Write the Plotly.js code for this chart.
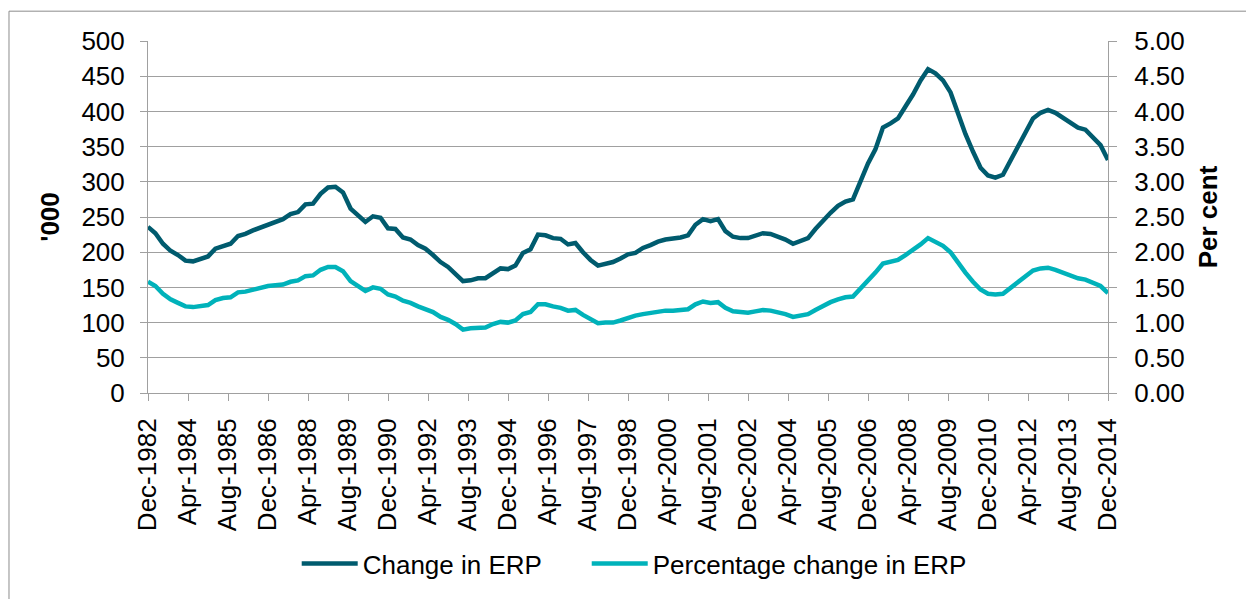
<!DOCTYPE html>
<html>
<head>
<meta charset="utf-8">
<script src="https://cdn.plot.ly/plotly-3.0.1.min.js"></script>
<style>
  html, body { margin: 0; padding: 0; background: #ffffff; }
  #chart { width: 1246px; height: 599px; }
</style>
</head>
<body>
<div id="chart"></div>
<script>
// Quarterly observations, Dec-1982 to Dec-2014
const startYear = 1982;
const startMonth = 12;
const quarterCount = 129;

// Change in ERP ('000)
const changeERP = [
  236, 227, 212, 202, 196, 188, 187, 190, 194, 205,
  209, 212, 223, 226, 231, 235, 239, 243, 247, 254,
  257, 268, 269, 283, 292, 293, 285, 262, 252, 243,
  251, 249, 234, 233, 221, 218, 210, 205, 196, 186,
  179, 170, 159, 160, 163, 163, 170, 177, 176, 181,
  199, 204, 225, 224, 220, 219, 211, 213, 200, 189,
  181, 184, 186, 191, 197, 199, 206, 210, 215, 218,
  219, 221, 224, 239, 247, 244, 247, 230, 222, 220,
  220, 224, 227, 226, 222, 218, 212, 216, 220, 233,
  245, 256, 266, 272, 275, 300, 326, 346, 377, 383,
  390, 407, 424, 444, 460, 454, 444, 427, 395, 368,
  343, 320, 309, 306, 310, 330, 351, 371, 390, 398,
  402, 398, 391, 385, 377, 374, 362, 352, 331
];

// Percentage change in ERP (per cent)
const pctChangeERP = [
  1.58, 1.52, 1.41, 1.33, 1.28, 1.23, 1.22, 1.24, 1.25, 1.32,
  1.35, 1.36, 1.43, 1.44, 1.47, 1.50, 1.52, 1.53, 1.54, 1.58,
  1.60, 1.66, 1.67, 1.75, 1.79, 1.79, 1.73, 1.59, 1.51, 1.45,
  1.50, 1.48, 1.40, 1.37, 1.31, 1.28, 1.23, 1.19, 1.15, 1.08,
  1.04, 0.98, 0.90, 0.92, 0.93, 0.93, 0.98, 1.01, 1.00, 1.03,
  1.12, 1.15, 1.26, 1.26, 1.23, 1.21, 1.17, 1.18, 1.11, 1.04,
  0.99, 1.00, 1.00, 1.03, 1.07, 1.10, 1.12, 1.14, 1.16, 1.17,
  1.17, 1.18, 1.19, 1.26, 1.30, 1.28, 1.29, 1.21, 1.16, 1.15,
  1.14, 1.16, 1.18, 1.17, 1.15, 1.12, 1.08, 1.10, 1.12, 1.18,
  1.24, 1.29, 1.33, 1.36, 1.37, 1.48, 1.61, 1.71, 1.84, 1.87,
  1.89, 1.96, 2.03, 2.11, 2.20, 2.15, 2.09, 2.00, 1.85, 1.71,
  1.58, 1.47, 1.41, 1.40, 1.41, 1.49, 1.58, 1.66, 1.74, 1.77,
  1.78, 1.75, 1.71, 1.68, 1.63, 1.61, 1.56, 1.52, 1.42
];

const seriesNames = ["Change in ERP", "Percentage change in ERP"];
const leftTitle = "'000";
const rightTitle = "Per cent";

// quarter dates
const quarterDates = [];
for (let i = 0; i < quarterCount; i++) {
  const m0 = (startMonth - 1) + 3 * i;
  const y = startYear + Math.floor(m0 / 12);
  const m = (m0 % 12) + 1;
  quarterDates.push(y + "-" + String(m).padStart(2, "0") + "-01");
}

const FONT = '"Liberation Sans", Arial, sans-serif';
const AXIS_GREY = '#a0a0a0';

const traces = [
  {
    x: quarterDates, y: changeERP, name: seriesNames[0],
    type: 'scatter', mode: 'lines', yaxis: 'y', legend: 'legend',
    line: { color: '#005b6e', width: 4.5 }
  },
  {
    x: quarterDates, y: pctChangeERP, name: seriesNames[1],
    type: 'scatter', mode: 'lines', yaxis: 'y2', legend: 'legend2',
    line: { color: '#00b2ba', width: 4.5 }
  }
];

const legendStyle = {
  orientation: 'h', xanchor: 'left', y: -0.485, yanchor: 'middle',
  font: { family: FONT, size: 26, color: '#000000' },
  itemwidth: 56, bgcolor: 'rgba(0,0,0,0)', borderwidth: 0
};

const layout = {
  width: 1246, height: 599, autosize: false,
  margin: { l: 148, r: 138, t: 41, b: 204, pad: 0 },
  paper_bgcolor: '#ffffff', plot_bgcolor: '#ffffff',
  font: { family: FONT, size: 26, color: '#000000' },
  showlegend: true,
  legend: Object.assign({}, legendStyle, { x: 0.1549 }),
  legend2: Object.assign({}, legendStyle, { x: 0.457 }),
  xaxis: {
    type: 'date',
    range: [quarterDates[0], quarterDates[quarterDates.length - 1]],
    tick0: quarterDates[0], dtick: 'M16', tickformat: '%b-%Y',
    tickangle: -90, ticks: 'outside', ticklen: 7, tickwidth: 1, tickcolor: AXIS_GREY,
    showline: true, linecolor: AXIS_GREY, linewidth: 1,
    showgrid: false, zeroline: false,
    tickfont: { family: FONT, size: 26, color: '#000000' },
    ticklabelstandoff: 7
  },
  yaxis: {
    range: [0, 500], dtick: 50, tick0: 0,
    ticks: 'outside', ticklen: 7, tickwidth: 1, tickcolor: AXIS_GREY,
    showline: true, linecolor: AXIS_GREY, linewidth: 1,
    showgrid: true, gridcolor: AXIS_GREY, gridwidth: 1, zeroline: false,
    tickfont: { family: FONT, size: 26, color: '#000000' },
    ticklabelstandoff: 10,
    title: { text: leftTitle, font: { family: FONT, size: 26, color: '#000000', weight: 'bold' }, standoff: 14 }
  },
  yaxis2: {
    overlaying: 'y', side: 'right',
    range: [0, 5], dtick: 0.5, tick0: 0, tickformat: '.2f',
    ticks: 'outside', ticklen: 8, tickwidth: 1, tickcolor: AXIS_GREY,
    showline: true, linecolor: AXIS_GREY, linewidth: 1,
    showgrid: false, zeroline: false,
    tickfont: { family: FONT, size: 26, color: '#000000' },
    ticklabelstandoff: 12,
    title: { text: rightTitle, font: { family: FONT, size: 26, color: '#000000', weight: 'bold' }, standoff: 14 }
  },
  shapes: [
    {
      type: 'rect', xref: 'paper', yref: 'paper',
      x0: -0.1448, x1: 1.3, y0: -0.8, y1: 1.0847,
      line: { color: '#8c8c8c', width: 1 }, fillcolor: 'rgba(0,0,0,0)', layer: 'below'
    }
  ]
};

Plotly.newPlot('chart', traces, layout, { displayModeBar: false, staticPlot: true });
</script>
</body>
</html>
